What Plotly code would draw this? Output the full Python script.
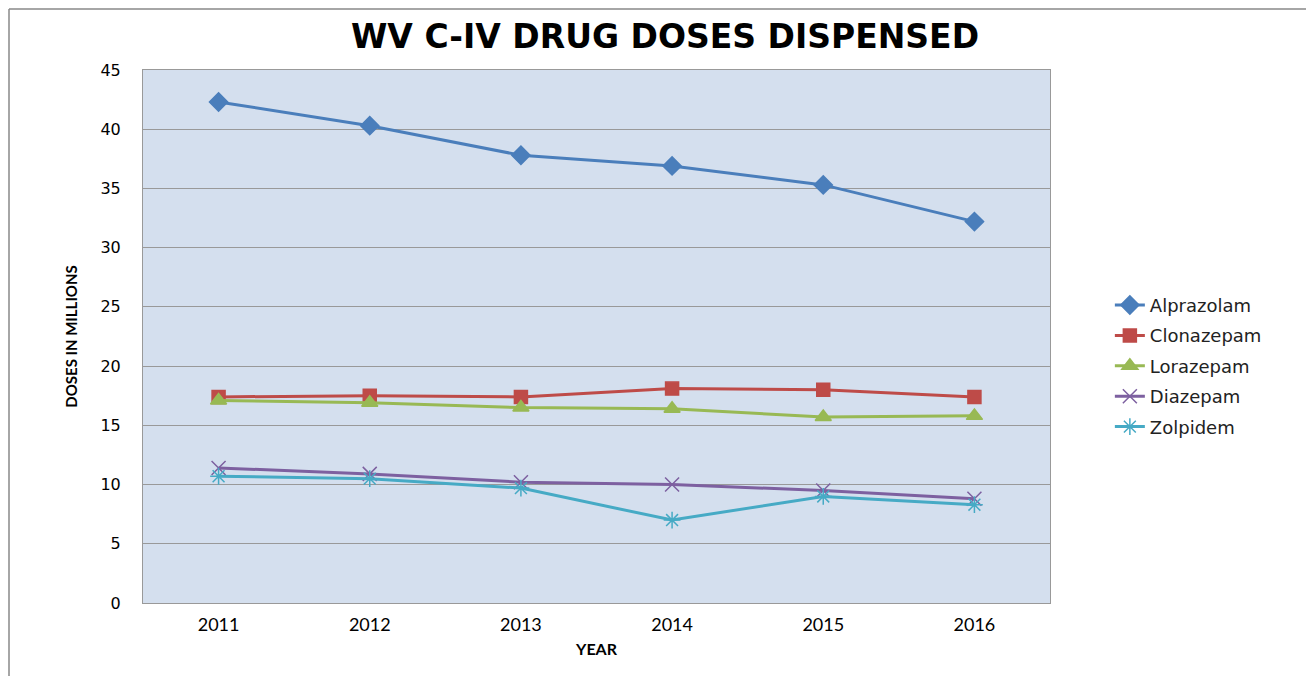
import plotly.graph_objects as go

years = ["2011", "2012", "2013", "2014", "2015", "2016"]
alprazolam = [42.3, 40.3, 37.8, 36.9, 35.3, 32.2]
clonazepam = [17.4, 17.5, 17.4, 18.1, 18.0, 17.4]
lorazepam = [17.1, 16.9, 16.5, 16.4, 15.7, 15.8]
diazepam = [11.4, 10.9, 10.2, 10.0, 9.5, 8.8]
zolpidem = [10.7, 10.5, 9.7, 7.0, 9.0, 8.3]
y_ticks = [0, 5, 10, 15, 20, 25, 30, 35, 40, 45]

series = [
    ("Alprazolam", alprazolam, "#4a7ebb", "diamond", 14),
    ("Clonazepam", clonazepam, "#be4b48", "square", 13),
    ("Lorazepam", lorazepam, "#98b954", "triangle-up", 14),
    ("Diazepam", diazepam, "#7d60a0", "x-thin-open", 14),
    ("Zolpidem", zolpidem, "#46aac5", "asterisk-open", 14),
]

fig = go.Figure()
for name, vals, color, sym, size in series:
    fig.add_trace(go.Scatter(
        x=years, y=vals, name=name, mode="lines+markers", legendgroup=name,
        line=dict(color=color, width=3),
        marker=dict(symbol=sym, size=size, color=color,
                    line=dict(color=color, width=1.5)),
    ))

# page body margin shifts the figure by 8px; plot area ends up at x 143-1050, y 70-603
L, T = 135, 62
W, H = 1314, 676
PW, PH = 907, 533
bx0 = (1 - L) / PW
bx1 = (1302 - L) / PW
by1 = (T + PH - 1) / PH
fig.update_layout(
    width=W, height=H,
    margin=dict(l=L, r=W - L - PW, t=T, b=H - T - PH),
    paper_bgcolor="white",
    plot_bgcolor="#d4dfee",
    title=dict(text="<b>WV C-IV DRUG DOSES DISPENSED</b>", x=0.5, xanchor="center",
               y=0.958, yanchor="middle",
               font=dict(family="DejaVu Sans", size=33, color="black")),
    legend=dict(x=1.066, y=0.445, xanchor="left", yanchor="middle",
                font=dict(family="DejaVu Sans", size=18, color="#222222"),
                tracegroupgap=4, bgcolor="rgba(0,0,0,0)"),
    shapes=[
        dict(type="line", xref="paper", yref="paper",
             x0=bx0, x1=bx0, y0=-0.3, y1=by1,
             line=dict(color="#888888", width=1.5)),
        dict(type="line", xref="paper", yref="paper",
             x0=bx0, x1=bx1, y0=by1, y1=by1,
             line=dict(color="#888888", width=1.5)),
        dict(type="line", xref="paper", yref="paper",
             x0=bx1, x1=bx1, y0=-0.3, y1=by1,
             line=dict(color="#888888", width=1.5)),
    ],
)
fig.update_xaxes(
    type="category", range=[-0.5, 5.5], showgrid=False,
    showline=True, linecolor="#999999", linewidth=1, mirror=True,
    ticks="outside", ticklen=5, tickcolor="rgba(0,0,0,0)",
    tickfont=dict(family="Lato", size=18, color="black"),
    title=dict(text="<b>YEAR</b>", font=dict(family="Lato", size=16, color="black"), standoff=10),
)
fig.update_yaxes(
    range=[0, 45], tickvals=y_ticks, showgrid=True, gridcolor="#999999", gridwidth=1,
    showline=True, linecolor="#999999", linewidth=1, mirror=True, zeroline=False,
    ticks="outside", ticklen=18, tickcolor="rgba(0,0,0,0)",
    tickfont=dict(family="DejaVu Sans", size=16, color="black"),
    title=dict(text="<b>DOSES IN MILLIONS</b>", font=dict(family="Lato", size=15, color="black"), standoff=19),
)

fig.write_html("out.html")
